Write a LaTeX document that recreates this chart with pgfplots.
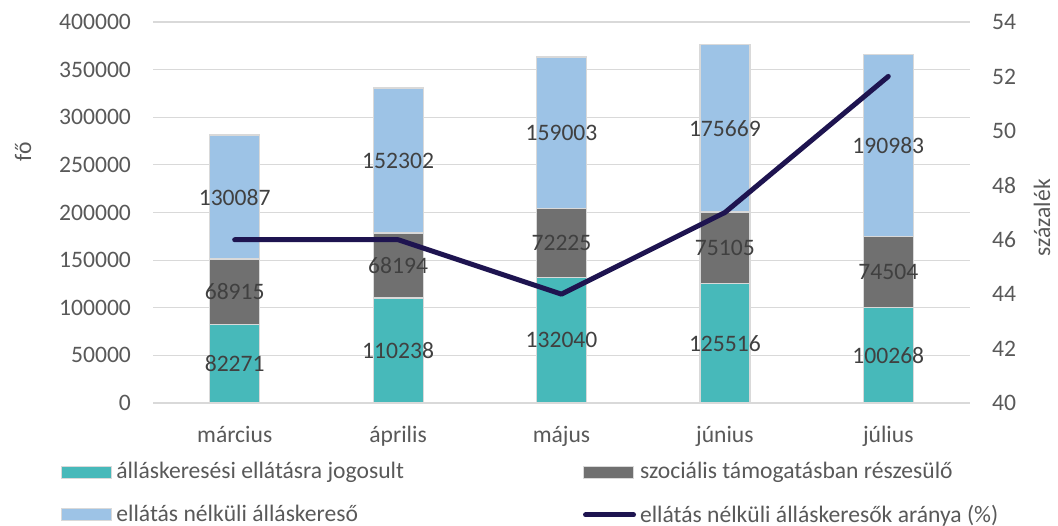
\documentclass[border=0pt]{standalone}
\usepackage{fontspec}
\setmainfont{Carlito}
\usepackage{pgfplots}
\usepackage{pgfplotstable}
\pgfplotsset{compat=1.18}
\definecolor{cteal}{HTML}{47B9BA}
\definecolor{cgray}{HTML}{707070}
\definecolor{cblue}{HTML}{9DC3E6}
\definecolor{cnavy}{HTML}{1E1450}
\definecolor{cgrid}{HTML}{D9D9D9}
\definecolor{ctext}{HTML}{595959}
\definecolor{clabel}{HTML}{404040}

\pgfplotstableread{
x a b c r
0 82271 68915 130087 46
1 110238 68194 152302 46
2 132040 72225 159003 44
3 125516 75105 175669 47
4 100268 74504 190983 52
}\data

\newcommand{\cf}{\fontsize{11.8}{14}\selectfont}

\pgfplotsset{
  base/.style={
    scale only axis, width=408.5pt, height=190.5pt,
    xmin=-0.5, xmax=4.5, xtick={0,...,4},
    major tick length=0pt,
    axis line style={draw=none},
    tick label style={font=\cf, text=ctext},
    label style={font=\cf, text=ctext},
    /pgf/number format/fixed,
    /pgf/number format/assume math mode=true,
    /pgf/number format/1000 sep={},
    scaled y ticks=false,
  }
}

\begin{document}
\begin{tikzpicture}
\begin{axis}[base, ybar stacked, bar width=25pt,
  ymin=0, ymax=400000, ytick={0,50000,...,400000},
  ymajorgrids, grid style={cgrid, line width=0.6pt},
  xticklabels={március,április,május,június,július},
  xticklabel style={yshift=-8pt},
  yticklabel style={xshift=-7.5pt},
  ylabel={fő},
  ylabel style={at={(rel axis cs:0,0.66)}, anchor=center, yshift=65pt},
]
\addplot[fill=cteal, draw=cgrid, line width=0.6pt] table[x=x,y=a]{\data};
\addplot[fill=cgray, draw=cgrid, line width=0.6pt] table[x=x,y=b]{\data};
\addplot[fill=cblue, draw=cgrid, line width=0.6pt] table[x=x,y=c]{\data};
\end{axis}

\begin{axis}[base, ymin=40, ymax=54, ytick={40,42,...,54},
  axis y line*=right, hide x axis,
  yticklabel style={xshift=7.5pt},
  ylabel={százalék},
  ylabel style={at={(rel axis cs:1,0.486)}, anchor=center, yshift=-36pt},
  legend columns=2,
  legend cell align=left,
  legend style={at={(rel axis cs:0,0)}, anchor=north west, xshift=-49pt, yshift=-25.5pt,
    draw=none, fill=none, font=\cf, text=ctext, row sep=7.5pt,
    /tikz/every even column/.append style={column sep=87.5pt}},
]
\addlegendimage{legend image code/.code={\draw[fill=cteal, draw=cgrid, line width=0.5pt] (0pt,-3pt) rectangle (25pt,3pt);}}
\addlegendentry{álláskeresési ellátásra jogosult}
\addlegendimage{legend image code/.code={\draw[fill=cgray, draw=cgrid, line width=0.5pt] (0pt,-3pt) rectangle (25pt,3pt);}}
\addlegendentry{szociális támogatásban részesülő}
\addlegendimage{legend image code/.code={\draw[fill=cblue, draw=cgrid, line width=0.5pt] (0pt,-3pt) rectangle (25pt,3pt);}}
\addlegendentry{ellátás nélküli álláskereső}
\addplot[cnavy, line width=2.5pt, line cap=round, line join=round, mark=none,
  legend image code/.code={\draw[cnavy, line width=2.5pt, line cap=round] (1pt,0pt) -- (25pt,0pt);}]
  table[x=x,y=r]{\data};
\addlegendentry{ellátás nélküli álláskeresők aránya (\%)}
\end{axis}

\begin{axis}[base, ymin=0, ymax=400000, hide axis,
  point meta=explicit symbolic,
  nodes near coords,
  nodes near coords style={anchor=center, font=\cf, text=clabel},
]
\addplot[draw=none, mark=none] table[x=x, y expr=\thisrow{a}/2, meta=a]{\data};
\addplot[draw=none, mark=none] table[x=x, y expr=\thisrow{a}+\thisrow{b}/2, meta=b]{\data};
\addplot[draw=none, mark=none] table[x=x, y expr=\thisrow{a}+\thisrow{b}+\thisrow{c}/2, meta=c]{\data};
\coordinate (ll) at (rel axis cs:0,0);
\coordinate (ur) at (rel axis cs:1,1);
\end{axis}
\pgfresetboundingbox
\path[use as bounding box] ([xshift=-76.5pt,yshift=-61pt]ll) rectangle ([xshift=44pt,yshift=11pt]ur);
\end{tikzpicture}
\end{document}
